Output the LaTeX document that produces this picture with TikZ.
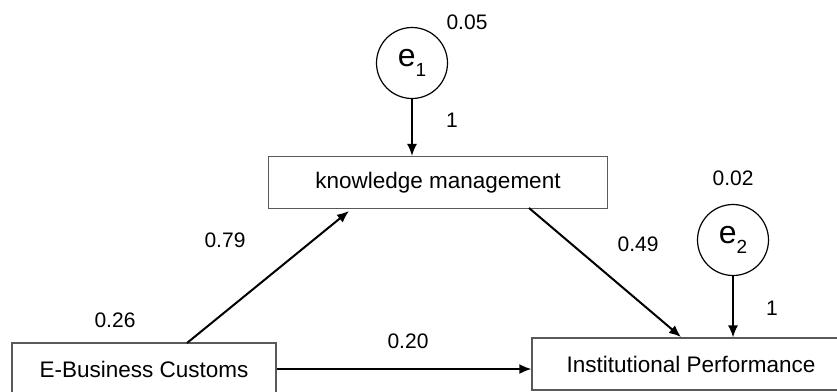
\documentclass[tikz,border=0pt]{standalone}
\usepackage{fontspec}
\setmainfont{Liberation Sans}
\usetikzlibrary{arrows.meta, positioning}

\tikzset{
  varbox/.style={draw=black!65, line width=1.2pt, rectangle, minimum height=52pt,
                 inner sep=0pt, font=\fontsize{22.5}{26}\selectfont},
  errnode/.style={draw, line width=1.2pt, circle, minimum size=71pt, inner sep=0pt,
                  font=\fontsize{32}{36}\selectfont},
  path/.style={line width=2pt, -{Latex[length=12pt,width=10pt]}},
  coef/.style={font=\fontsize{21}{24}\selectfont}
}

\begin{document}
\begin{tikzpicture}[x=1pt,y=-1pt]
    \useasboundingbox (0,0) rectangle (837,391);

    % variables
    \node[varbox, minimum width=339pt] (km) at (438,182.5) {knowledge management};
    \node[varbox, minimum width=264pt] (eb) at (144,369) {E-Business Customs};
    \node[varbox, minimum width=318pt] (ip) at (691,364) {Institutional Performance};

    % error terms
    \node[errnode] (e1) at (412,63) {e\raisebox{-10pt}{\fontsize{19}{19}\selectfont 1}};
    \node[errnode] (e2) at (733,240) {e\raisebox{-10pt}{\fontsize{19}{19}\selectfont 2}};

    \coordinate (ebtop) at (187,343);
    \coordinate (kmin) at (349,211);
    \coordinate (kmout) at (529,208);
    \coordinate (ipin) at (681,337);

    % paths
    \draw[path, line width=1.6pt] (e1) -- (e1 |- km.north);
    \draw[path, line width=1.6pt] (e2) -- (e2 |- ip.north);
    \draw[path] (ebtop) -- (kmin);
    \draw[path] (kmout) -- (ipin);
    \draw[path] (eb.east) -- (eb.east -| ip.west);

    % estimates
    \node[coef] (v1) at (467,22) {0.05};
    \node[coef] (l1) at (452,120) {1};
    \node[coef] (v2) at (733,178) {0.02};
    \node[coef] (l2) at (772,308) {1};
    \node[coef] (veb) at (115,320) {0.26};
    \node[coef] (b1) at (225,240) {0.79};
    \node[coef] (b2) at (638,244) {0.49};
    \node[coef] (b3) at (408,341) {0.20};
\end{tikzpicture}
\end{document}
